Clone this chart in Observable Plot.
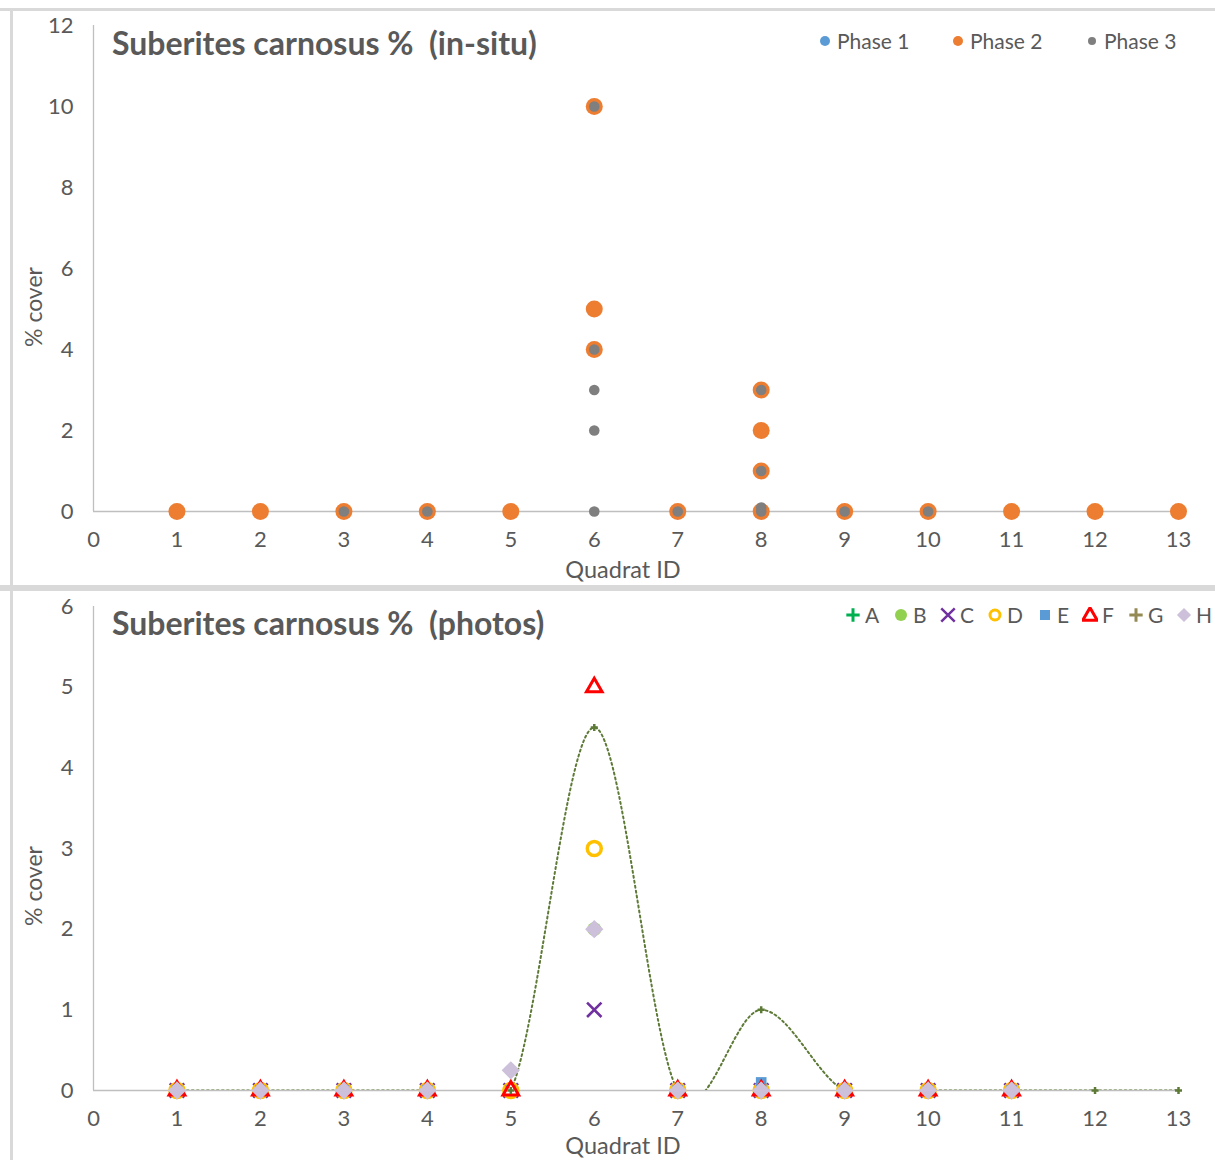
<!DOCTYPE html>
<html><head><meta charset="utf-8">
<script src="https://cdn.jsdelivr.net/npm/d3@7"></script>
<script src="https://cdn.jsdelivr.net/npm/@observablehq/plot@0.6"></script>
<style>
body{margin:0;background:#fff;font-family:Lato,"Open Sans",sans-serif;}
#wrap{position:relative;width:1215px;height:1160px;overflow:hidden;background:#fff}
.chart{position:absolute;left:0}
.title{position:absolute;left:112px;font-weight:bold;font-size:32px;color:#595959;white-space:pre;line-height:1}
.leg{position:absolute;font-size:21px;color:#595959;display:flex;align-items:center;white-space:nowrap;line-height:1}
.leg svg{margin-right:4px}
.ylab{position:absolute;font-size:23px;color:#595959;transform:translate(-50%,-50%) rotate(-90deg);white-space:nowrap;line-height:1}
.xlab{position:absolute;font-size:23.5px;color:#595959;transform:translate(-50%,-50%);white-space:nowrap;line-height:1}
.border{position:absolute;background:#d9d9d9}
</style>
</head><body>
<div id="wrap"></div>
<script>
// ---------- DATA ----------
const quadratTicks = [0,1,2,3,4,5,6,7,8,9,10,11,12,13];
const topYTicks = [0,2,4,6,8,10,12];
const bottomYTicks = [0,1,2,3,4,5,6];

// Top chart: in-situ
const phase1X = [1,2,3,4,5,6,6,7,8,8,9,10,11,12,13];
const phase1Y = [0,0,0,0,0,10,4,0,3,1,0,0,0,0,0];
const phase2X = [1,2,3,4,5,6,6,6,7,8,8,8,8,9,10,11,12,13];
const phase2Y = [0,0,0,0,0,10,5,4,0,3,2,1,0,0,0,0,0,0];
const phase3X = [3,4,6,6,6,6,6,7,8,8,8,8,9,10];
const phase3Y = [0,0,10,4,3,2,0,0,3,1,0.1,0,0,0];

// Bottom chart: photos (per quadrat 1..13)
const quadrats = [1,2,3,4,5,6,7,8,9,10,11,12,13];
const seriesA = [0,0,0,0,0,2,0,0,0,0,0,null,null];
const seriesB = [0,0,0,0,0,2,0,0,0,0,0,null,null];
const seriesC = [0,0,0,0,0,1,0,0,0,0,0,null,null];
const seriesD = [0,0,0,0,0,3,0,0,0,0,0,null,null];
const seriesE = [0,0,0,0,0,null,0,0.1,0,0,0,null,null];
const seriesF = [0,0,0,0,0,5,0,0,0,0,0,null,null];
const seriesG = [0,0,0,0,0,4.5,0,1,0,0,0,0,0];
const seriesH = [0,0,0,0,0.25,2,0,0,0,0,0,null,null];

const topTitle = "Suberites carnosus %  (in-situ)";
const bottomTitle = "Suberites carnosus %  (photos)";
const yLabel = "% cover";
const xLabel = "Quadrat ID";
const phaseNames = ["Phase 1","Phase 2","Phase 3"];
const photoNames = ["A","B","C","D","E","F","G","H"];

// ---------- HELPERS ----------
const pts = (xs, ys) => xs.map((x,i)=>({x, y: ys[i]})).filter(d => d.y != null);
const wrap = document.getElementById("wrap");
function el(cls, css, text){ const d=document.createElement("div"); d.className=cls; Object.assign(d.style, css); if(text!=null) d.textContent=text; wrap.appendChild(d); return d; }

const axisColor = "#bfbfbf";
const font = "Lato, 'Open Sans', sans-serif";

// ---------- TOP CHART ----------
const topPlot = Plot.plot({
  width:1215, height:587, marginLeft:93, marginRight:37, marginTop:25, marginBottom:76,
  x:{domain:[0,13]}, y:{domain:[0,12]},
  style:{fontFamily:font, color:"#595959", background:"transparent", overflow:"visible"},
  marks:[
    Plot.ruleY([0], {stroke:axisColor, strokeWidth:1.3}),
    Plot.ruleX([0], {stroke:axisColor, strokeWidth:1.3}),
    Plot.axisX({ticks:quadratTicks, tickSize:0, tickPadding:20, fontSize:22, label:null, tickFormat:d=>String(d)}),
    Plot.axisY({ticks:topYTicks, tickSize:0, tickPadding:20, fontSize:22, label:null, tickFormat:d=>String(d)}),
    Plot.dot(pts(phase1X, phase1Y), {x:"x", y:"y", r:7.5, fill:"#5B9BD5"}),
    Plot.dot(pts(phase2X, phase2Y), {x:"x", y:"y", r:8.5, fill:"#ED7D31"}),
    Plot.dot(pts(phase3X, phase3Y), {x:"x", y:"y", r:5.3, fill:"#7F7F7F"})
  ]
});
topPlot.classList.add("chart"); topPlot.style.top = "0px";
wrap.appendChild(topPlot);

// ---------- BOTTOM CHART ----------
const bx = quadrats;
const gColor = "#5E7A37";
const bottomPlot = Plot.plot({
  width:1215, height:573, marginLeft:93, marginRight:37, marginTop:19, marginBottom:70,
  x:{domain:[0,13]}, y:{domain:[0,6]},
  style:{fontFamily:font, color:"#595959", background:"transparent", overflow:"visible"},
  marks:[
    Plot.ruleY([0], {stroke:axisColor, strokeWidth:1.3}),
    Plot.ruleX([0], {stroke:axisColor, strokeWidth:1.3}),
    Plot.axisX({ticks:quadratTicks, tickSize:0, tickPadding:20, fontSize:22, label:null, tickFormat:d=>String(d)}),
    Plot.axisY({ticks:bottomYTicks, tickSize:0, tickPadding:20, fontSize:22, label:null, tickFormat:d=>String(d)}),
    Plot.line(pts(bx, seriesG), {x:"x", y:"y", curve:"cardinal", tension:0, stroke:gColor, strokeWidth:2, strokeDasharray:"2,3", clip:"frame"}),
    Plot.dot(pts(bx, seriesA), {x:"x", y:"y", symbol:"plus", r:4.6, stroke:"#00B050", strokeWidth:3}),
    Plot.dot(pts(bx, seriesB), {x:"x", y:"y", symbol:"circle", r:7, fill:"#92D050"}),
    Plot.dot(pts(bx, seriesC), {x:"x", y:"y", symbol:"times", r:6.6, stroke:"#7030A0", strokeWidth:2.6}),
    Plot.dot(pts(bx, seriesD), {x:"x", y:"y", symbol:"circle", r:7, stroke:"#FFC000", strokeWidth:3.5, fill:"white"}),
    Plot.dot(pts(bx, seriesE), {x:"x", y:"y", symbol:"square", r:6, fill:"#5B9BD5"}),
    Plot.dot(pts(bx, seriesF), {x:"x", y:"y", symbol:"triangle", r:5.8, stroke:"#FF0000", strokeWidth:3, fill:"white"}),
    Plot.dot(pts(bx, seriesG), {x:"x", y:"y", symbol:"plus", r:2.4, stroke:gColor, strokeWidth:2.5}),
    Plot.dot(pts(bx, seriesH), {x:"x", y:"y", symbol:"square", rotate:45, r:7.3, fill:"#CCC0DA"})
  ]
});
bottomPlot.classList.add("chart"); bottomPlot.style.top = "587px";
wrap.appendChild(bottomPlot);

// ---------- FRAME / BORDERS ----------
el("border", {left:"0px", top:"8px", width:"1215px", height:"3px"});
el("border", {left:"10px", top:"8px", width:"3px", height:"1152px"});
el("border", {left:"0px", top:"585px", width:"1215px", height:"6px"});

// ---------- TITLES & AXIS LABELS ----------
el("title", {top:"27px"}, topTitle);
el("title", {top:"607px"}, bottomTitle);
el("ylab", {left:"33px", top:"307px"}, yLabel);
el("ylab", {left:"33px", top:"886px"}, yLabel);
el("xlab", {left:"623px", top:"570px"}, xLabel);
el("xlab", {left:"623px", top:"1146px"}, xLabel);

// ---------- LEGENDS ----------
function legend(left, top, name, drawSym){
  const d = el("leg", {left:left+"px", top:top+"px"});
  const s = d3.create("svg").attr("width",16).attr("height",16).attr("viewBox","-8 -8 16 16");
  drawSym(s);
  d.appendChild(s.node());
  const t = document.createElement("span"); t.textContent = name; d.appendChild(t);
}
const sym = (type, size) => d3.symbol(type, size)();
const phaseColors = ["#5B9BD5","#ED7D31","#7F7F7F"];
const phaseR = [5,5,4];
const phaseLeft = [817, 950, 1084];
phaseNames.forEach((n,i)=> legend(phaseLeft[i], 30, n, s => s.append("circle").attr("r",phaseR[i]).attr("fill",phaseColors[i])));

const photoLeft = [845, 893, 940, 987, 1037, 1082, 1128, 1176];
const photoSyms = [
  s => s.append("path").attr("d", sym(d3.symbolPlus, 60)).attr("fill","none").attr("stroke","#00B050").attr("stroke-width",3),
  s => s.append("circle").attr("r",6).attr("fill","#92D050"),
  s => s.append("path").attr("d", sym(d3.symbolTimes, 120)).attr("fill","none").attr("stroke","#7030A0").attr("stroke-width",2.5),
  s => s.append("circle").attr("r",5).attr("fill","none").attr("stroke","#FFC000").attr("stroke-width",3),
  s => s.append("rect").attr("x",-5).attr("y",-5).attr("width",10).attr("height",10).attr("fill","#5B9BD5"),
  s => s.append("path").attr("d", sym(d3.symbolTriangle, 90)).attr("transform","translate(0,1)").attr("fill","white").attr("stroke","#FF0000").attr("stroke-width",3),
  s => s.append("path").attr("d", sym(d3.symbolPlus, 60)).attr("fill","none").attr("stroke","#948A54").attr("stroke-width",3),
  s => s.append("rect").attr("x",-5).attr("y",-5).attr("width",10).attr("height",10).attr("fill","#CCC0DA").attr("transform","rotate(45)")
];
photoNames.forEach((n,i)=> legend(photoLeft[i], 604, n, photoSyms[i]));
</script>
</body></html>
